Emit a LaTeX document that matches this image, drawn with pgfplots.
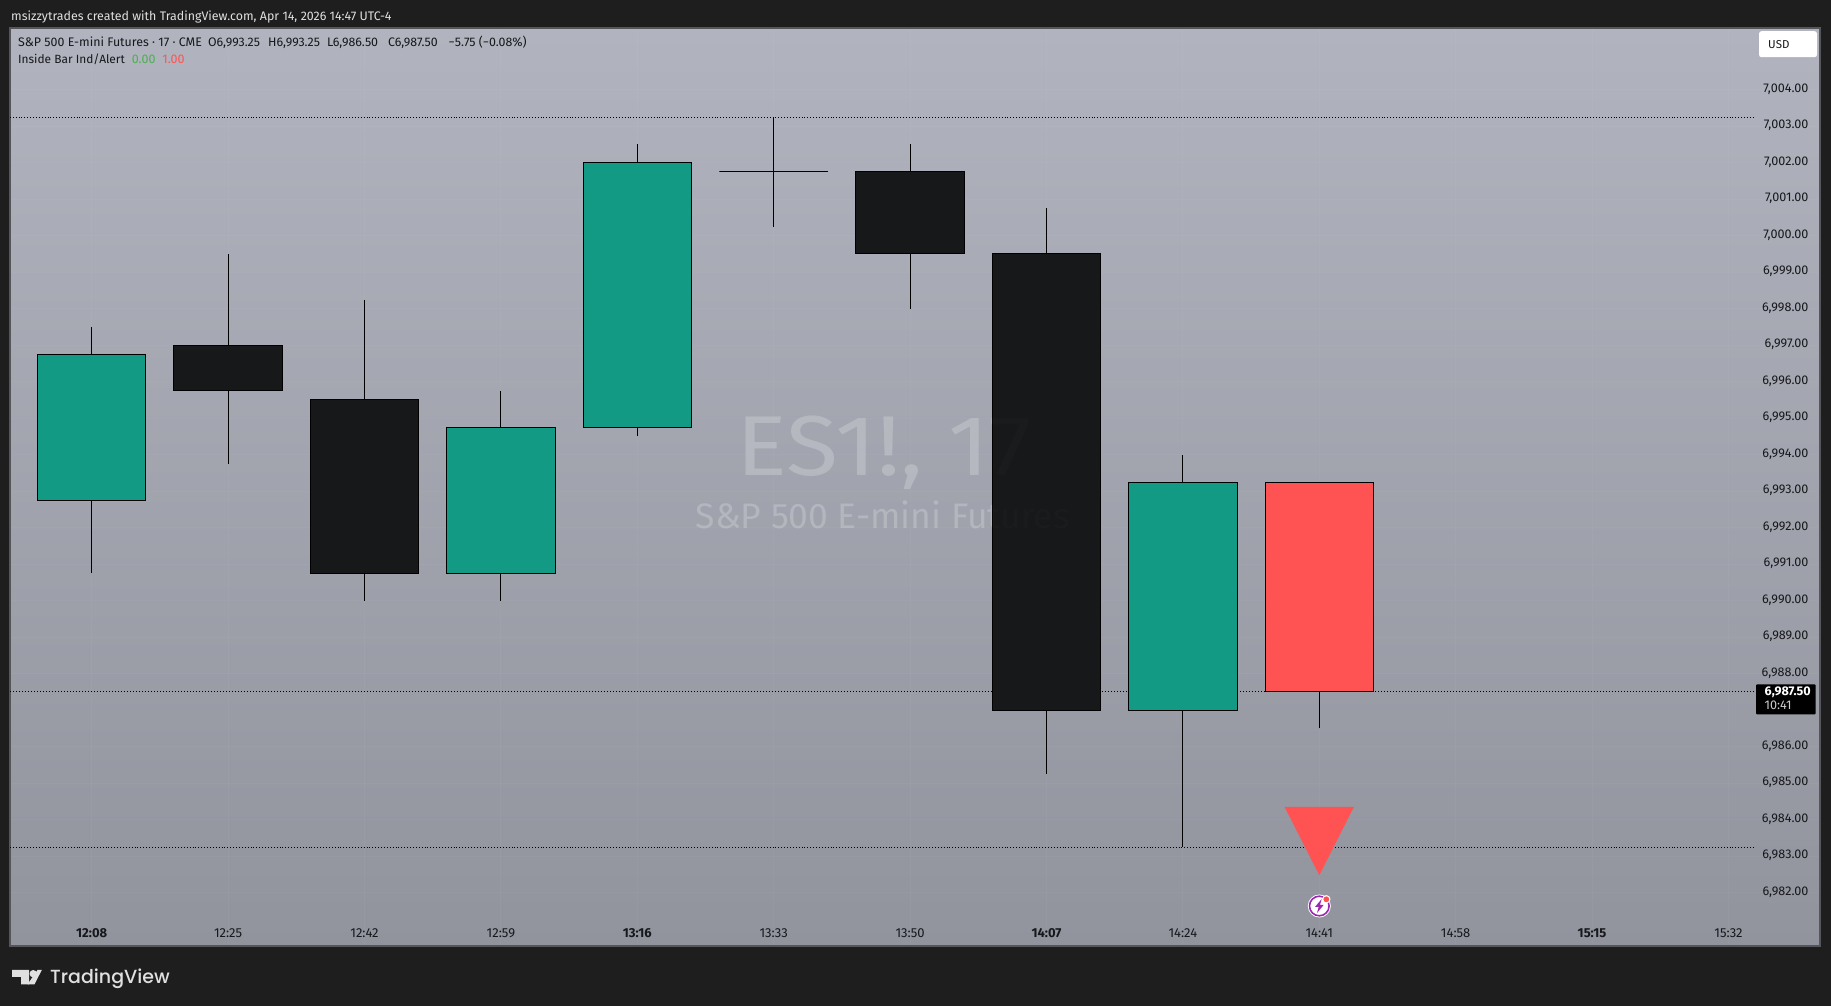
\documentclass[border=0pt]{standalone}
\usepackage{fontspec}
\usepackage{pgfplots}
\pgfplotsset{compat=1.18}
\setmainfont{Fira Sans}
\newfontfamily\logofont[UprightFont={* Medium}]{Poppins}
\definecolor{frame}{HTML}{1E1E1E}
\definecolor{paneedge}{HTML}{55565A}
\definecolor{panetop}{HTML}{B1B4BE}
\definecolor{panebot}{HTML}{91949D}
\definecolor{upc}{HTML}{139A84}
\definecolor{downc}{HTML}{17181A}
\definecolor{redc}{HTML}{FF5252}
\definecolor{txt}{HTML}{17181C}
\newcommand{\px}[1]{\fontsize{#1}{#1}\selectfont}
% candle: x, open, close, colour
\newcommand{\candle}[4]{\addplot[fill=#4,draw=black,line width=1pt,forget plot] coordinates {(#1-0.398,#2)(#1+0.398,#2)(#1+0.398,#3)(#1-0.398,#3)} -- cycle;}
\begin{document}
\begin{tikzpicture}[x=1pt,y=1pt]
\fill[frame] (0,0) rectangle (1831,1006);
\begin{axis}[
  at={(10pt,60pt)},anchor=south west,
  scale only axis,width=1810pt,height=918pt,
  xmin=-0.599,xmax=12.671,ymin=6980.54,ymax=7005.69,
  axis background/.style={top color=panetop,bottom color=panebot},
  axis line style={draw=paneedge,line width=1.5pt},
  major tick length=0pt,
  xtick={0,1,2,3,4,5,6,7,8,9,10,11,12},
  xticklabels={\textbf{12:08},12:25,12:42,12:59,\textbf{13:16},13:33,13:50,\textbf{14:07},14:24,14:41,14:58,\textbf{15:15},15:32},
  xticklabel style={anchor=center,yshift=13pt,font=\px{13},text=txt},
  ytick={6982,6983,6984,6985,6986,6988,6989,6990,6991,6992,6993,6994,6995,6996,6997,6998,6999,7000,7001,7002,7003,7004},
  yticklabel pos=right,
  yticklabel style={anchor=east,xshift=-8pt,yshift=0.5pt,font=\px{12.6},text=txt,
    /pgf/number format/fixed,/pgf/number format/fixed zerofill,/pgf/number format/precision=2,
    /pgf/number format/1000 sep={,},/pgf/number format/assume math mode=true},
  grid=major,grid style={white,opacity=0.03,line width=0.8pt},
  unbounded coords=jump,
  clip=true,
]
% watermark
\node[font=\px{85},xscale=1.12,text=white,opacity=0.2] at (axis cs:5.81,6994.05) {ES1!, 17};
\node[font=\px{35.5},text=white,opacity=0.2] at (axis cs:5.80,6992.35) {S\&P 500 E-mini Futures};
% dotted high / low / last lines
\addplot[black,line width=0.9pt,dotted,forget plot] coordinates {(-0.6,7003.25)(12.19,7003.25)};
\addplot[black,line width=0.9pt,dotted,forget plot] coordinates {(-0.6,6983.25)(12.19,6983.25)};
% signal triangle
\addplot[fill=redc,draw=none,forget plot] coordinates {(8.746,6984.35)(9.254,6984.35)(9,6982.48)} -- cycle;
\addplot[black,line width=1pt,dotted,forget plot] coordinates {(-0.6,6987.5)(12.19,6987.5)};
% wicks (high-low)
\addplot[black,line width=1pt,forget plot] coordinates {
 (0,6990.75)(0,6997.5)(0,nan)
 (1,6993.75)(1,6999.5)(1,nan)
 (2,6990)(2,6998.25)(2,nan)
 (3,6990)(3,6995.75)(3,nan)
 (4,6994.5)(4,7002.5)(4,nan)
 (5,7000.25)(5,7003.25)(5,nan)
 (6,6998)(6,7002.5)(6,nan)
 (7,6985.25)(7,7000.75)(7,nan)
 (8,6983.25)(8,6994)(8,nan)
 (9,6986.5)(9,6993.25)};
% bodies
\candle{0}{6992.75}{6996.75}{upc}
\candle{1}{6997}{6995.75}{downc}
\candle{2}{6995.5}{6990.75}{downc}
\candle{3}{6990.75}{6994.75}{upc}
\candle{4}{6994.75}{7002}{upc}
\candle{5}{7001.75}{7001.75}{downc}
\candle{6}{7001.75}{6999.5}{downc}
\candle{7}{6999.5}{6987}{downc}
\candle{8}{6987}{6993.25}{upc}
\candle{9}{6993.25}{6987.5}{redc}
% faint trace of the watermark through the dark candle
\node[font=\px{85},xscale=1.12,text=white,opacity=0.015] at (axis cs:5.81,6994.05) {ES1!, 17};
\node[font=\px{35.5},text=white,opacity=0.015] at (axis cs:5.80,6992.35) {S\&P 500 E-mini Futures};
\end{axis}
% header
\node[anchor=base west,inner sep=0,font=\px{12.4},text=white!88!black] at (11,985.5) {msizzytrades created with TradingView.com, Apr 14, 2026 14:47 UTC-4};
\node[anchor=base west,inner sep=0,font=\px{12.4},text=txt] at (18,959) {S\&P 500 E-mini Futures · 17 · CME\hspace{6pt}O6,993.25\hspace{8pt}H6,993.25\hspace{7pt}L6,986.50\hspace{10pt}C6,987.50\hspace{11pt}−5.75 (−0.08\%)};
\node[anchor=base west,inner sep=0,font=\px{11.9},text=txt] at (18,942.5) {Inside Bar Ind/Alert\hspace{7pt}{\px{12.5}\textcolor[HTML]{4CAF50}{0.00}\hspace{7pt}\textcolor{redc}{1.00}}};
% USD button
\fill[white,rounded corners=2.5pt] (1759,948.8) rectangle (1817,974.8);
\node[anchor=base west,inner sep=0,font=\px{11.5},text=txt] at (1768,957) {USD};
% last price tag
\fill[black,rounded corners=1pt] (1756,291.7) rectangle (1815.7,321.7);
\node[anchor=base east,inner sep=0,font=\px{12.6}\bfseries,text=white] at (1811,310) {6,987.50};
\node[anchor=base west,inner sep=0,font=\px{12.6},text=white!80!black] at (1764.5,296) {10:41};
% alert icon
\fill[white] (1319.3,100) circle (11.5);
\draw[color={rgb,255:red,156;green,39;blue,176},line width=1.6pt] (1319.3,100) circle (9.8);
\fill[color={rgb,255:red,156;green,39;blue,176}] (1321.6,107) -- (1315,99) -- (1318.6,99) -- (1317,93) -- (1323.6,101) -- (1320,101) -- cycle;
\fill[white] (1326.3,106.7) circle (4.2);
\fill[redc] (1326.3,106.7) circle (2.9);
% logo
\fill[white!88!black] (12,36) -- (29,36) -- (29,21.7) -- (21,21.7) -- (21,29) -- (12,29) -- cycle;
\fill[white!88!black] (33.2,32.3) circle (3.7);
\fill[white!88!black] (37.5,36) -- (41.8,36) -- (34.5,21.7) -- (27.5,21.7) -- cycle;
\node[anchor=base west,inner sep=0,font=\logofont\px{19},text=white!88!black] at (50,22) {TradingView};
\end{tikzpicture}
\end{document}
